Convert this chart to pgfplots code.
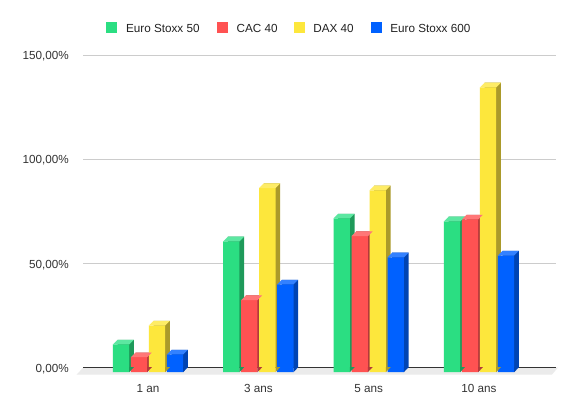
\documentclass[border=0pt]{standalone}
\usepackage{fontspec}
\setmainfont{Liberation Sans}
\usepackage{pgfplots}
\usepackage{pgfplotstable}
\pgfplotsset{compat=1.18}

\definecolor{gF}{HTML}{2BDE82}
\definecolor{gT}{HTML}{5CE7A1}
\definecolor{gS}{HTML}{1E9A5A}
\definecolor{rF}{HTML}{FF5252}
\definecolor{rT}{HTML}{FF7777}
\definecolor{rS}{HTML}{B33A3A}
\definecolor{yF}{HTML}{FDE73C}
\definecolor{yT}{HTML}{FEEC66}
\definecolor{yS}{HTML}{AB9A2A}
\definecolor{bF}{HTML}{0061FF}
\definecolor{bT}{HTML}{3381FF}
\definecolor{bS}{HTML}{0044B3}
\definecolor{gridc}{HTML}{CCCCCC}
\definecolor{basec}{HTML}{333333}
\definecolor{floorc}{HTML}{EBEBEB}
\definecolor{labc}{HTML}{333333}
\definecolor{legc}{HTML}{222222}

% top face of a bar (drawn at the back-top-centre of the bar)
\pgfdeclareplotmark{topface}{%
  \pgfpathmoveto{\pgfqpoint{-8.15pt}{0pt}}%
  \pgfpathlineto{\pgfqpoint{8.15pt}{0pt}}%
  \pgfpathlineto{\pgfqpoint{3.45pt}{-4.7pt}}%
  \pgfpathlineto{\pgfqpoint{-12.85pt}{-4.7pt}}%
  \pgfpathclose
  \pgfusepathqfill}
% lower corner of the side face
\pgfdeclareplotmark{botface}{%
  \pgfpathmoveto{\pgfqpoint{3.45pt}{0.3pt}}%
  \pgfpathlineto{\pgfqpoint{8.15pt}{0.3pt}}%
  \pgfpathlineto{\pgfqpoint{3.45pt}{-4.7pt}}%
  \pgfpathclose
  \pgfusepathqfill}

\pgfplotstableread{
x  zero g    r    y     b
0  0    13.3 7.2  22.4  8.5
1  0    62.8 34.6 88.4  42.1
2  0    73.8 65.3 87.3  55.1
3  0    72.4 73.3 136.7 56.0
}\data

\newcommand\series[5]{%
  \addplot[ybar, bar width=16.3pt, bar shift=#2, fill=#4, draw=none, forget plot]
    table[x=x, y=#1]{\data};
  \addplot[only marks, mark=botface, mark options={fill=#4, draw=none}, xshift=#2, forget plot]
    table[x=x, y=zero]{\data};
  \addplot[ybar, bar width=16.3pt, bar shift=#2, fill=#3, draw=none, xshift=-4.7pt, yshift=-4.7pt, forget plot]
    table[x=x, y=#1]{\data};
  \addplot[only marks, mark=topface, mark options={fill=#5, draw=none}, xshift=#2, forget plot]
    table[x=x, y=#1]{\data};
}

\newcommand\lfont{\fontsize{11.7}{14}\selectfont}

\begin{document}
\begin{tikzpicture}
\fill[white] (0,0) rectangle (577pt,416pt);
\path[use as bounding box] (0,0) rectangle (577pt,416pt);
% floor
\fill[floorc] (83.3pt,48.5pt) -- (558pt,48.5pt) -- (552pt,41.5pt) -- (76.7pt,41.5pt) -- cycle;

\begin{axis}[
  at={(83.3pt,48.5pt)}, anchor=south west,
  scale only axis, width=472.7pt, height=312.5pt,
  xmin=-0.629, xmax=3.655, ymin=0, ymax=150,
  clip=false,
  axis line style={draw=none},
  major tick length=0pt,
  tick style={draw=none},
  ytick={0,50,100,150},
  yticklabels={{0,00\%},{50,00\%},{100,00\%},{150,00\%}},
  xtick={0,1,2,3},
  xticklabels={1 an,3 ans,5 ans,10 ans},
  ymajorgrids,
  major grid style={draw=gridc, line width=1pt},
  extra y ticks={0},
  extra y tick labels={},
  extra y tick style={grid=major, major grid style={draw=basec, line width=1.1pt}},
  ticklabel style={font=\lfont, text=labc},
  yticklabel style={anchor=base east, inner sep=0pt, xshift=-14.3pt, yshift=-4.7pt},
  xticklabel style={anchor=base, inner sep=0pt, xshift=-4.7pt, yshift=-24.7pt},
]
\series{g}{-27pt}{gF}{gS}{gT}
\series{r}{-9pt}{rF}{rS}{rT}
\series{y}{9pt}{yF}{yS}{yT}
\series{b}{27pt}{bF}{bS}{bT}
\end{axis}

% legend
\fill[gF] (106pt,382.5pt) rectangle ++(11pt,11pt);
\node[anchor=base west, inner sep=0pt, font=\lfont, text=legc] at (125.9pt,383.6pt) {Euro Stoxx 50};
\fill[rF] (217pt,382.5pt) rectangle ++(11pt,11pt);
\node[anchor=base west, inner sep=0pt, font=\lfont, text=legc] at (236.4pt,383.6pt) {CAC 40};
\fill[yF] (294pt,382.5pt) rectangle ++(11pt,11pt);
\node[anchor=base west, inner sep=0pt, font=\lfont, text=legc] at (313.1pt,383.6pt) {DAX 40};
\fill[bF] (371pt,382.5pt) rectangle ++(11pt,11pt);
\node[anchor=base west, inner sep=0pt, font=\lfont, text=legc] at (390.1pt,383.6pt) {Euro Stoxx 600};
\end{tikzpicture}
\end{document}
